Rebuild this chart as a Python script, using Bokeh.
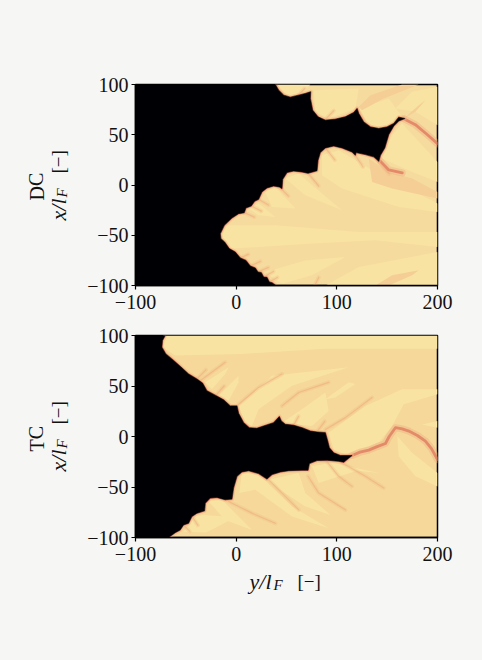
from bokeh.plotting import figure
from bokeh.layouts import column, row
from bokeh.models import FixedTicker
from bokeh.embed import file_html
from bokeh.resources import INLINE

y_ticks = [-100, 0, 100, 200]
x_ticks = [-100, -50, 0, 50, 100]
tick_names = {-100: "\u2212100", -50: "\u221250", 0: "0", 50: "50", 100: "100", 200: "200"}

# Flame front (y/lF, x/lF)
dc_front = [(39.5,-100),(35.6,-97.2),(32.9,-96.5),(30.6,-91.9),(27.3,-91.6),(25,-87.2),(21.6,-86.6),(19,-82.6),(14,-80.6),(9.7,-75),(4.1,-72.6),
 (-0.9,-66.7),(-6.9,-63.3),(-11.5,-56.7),(-15.2,-53.4),(-15.8,-48.4),(-11.8,-40.1),(-4.2,-32.8),(2.4,-28.5),(8,-27.5),(9.7,-22.8),(15,-20.8),
 (18.3,-16.2),(22.3,-14.2),(25.6,-6.9),(30.6,-2.9),(37.2,-0.9),(42.9,-1.9),(45.5,-3.6),(46.2,5.7),(50.5,12.4),(57.1,14),(65.4,13),(71.4,11.7),
 (80.3,14.3),(81.3,24.6),(83.6,32.3),(88.6,36.9),(96.9,38.9),(105.2,36.9),(115.1,32.9),(118.4,29.6),(119.1,32.3),(128.4,30.3),(136.7,28),
 (141.7,23.6),(143.3,29.6),(147.6,36.9),(151.6,50.2),(156.6,58.8),(161.5,63.8),(167.5,66.1),(161.5,67.5),(156.6,61.2),(149.9,57.8),(141.6,56.2),
 (133.4,57.8),(126.7,62.8),(121.8,71.1),(120.1,76.1),(116.8,72.1),(108.5,67.8),(98.5,65.5),(88.6,64.5),(81.3,67.8),(76,74.4),(73.7,86.1),(74,92.7),
 (68.7,91),(62.1,89.4),(53.8,87.4),(47.2,89.4),(42.2,94.4),(38.9,100)]
tc_front = [(-67.2,-100),(-60.6,-95.2),(-55.6,-92.5),(-52.3,-87.5),(-47.3,-85.9),(-44,-79.2),(-39,-75.9),(-31.4,-73.6),(-30.7,-66),(-25.8,-61),
 (-19.1,-60.3),(-10.9,-62.6),(-4.2,-62),(-2.6,-51),(0.8,-39.4),(5.7,-35.1),(12.4,-33.8),(22.3,-36.7),(30.6,-42.1),(35.6,-37.7),(43.9,-35.1),
 (52.1,-33.8),(65.4,-33.4),(71.4,-33.4),(72.7,-26.8),(80.3,-23.8),(90.3,-23.5),(101.9,-24.5),(106.8,-25.5),(115.1,-18.8),(103.5,-18.8),(96.9,-16.2),
 (92.6,-11.2),(90.9,-4.5),(88.6,3.8),(80.3,4.4),(73.7,5.4),(65.4,8.7),(57.1,11.1),(48.8,12.1),(44.8,15.4),(42.9,19.7),(37.2,13.7),(27.3,10.4),
 (20.6,8.1),(13,8.7),(7.4,13.7),(2.4,23),(0.8,30.3),(-5.9,30.3),(-12.5,36.3),(-20.8,40.9),(-29.1,45.3),(-33.4,52.9),(-39,56.9),(-47.3,61.9),
 (-55.6,69.5),(-63.9,76.8),(-69.9,81.8),(-73.8,88.4),(-73.2,95.1),(-70.5,100)]
far_side = [(-100,100),(-100,-100)]

# Regions of lighter temperature
dc_light = [
 [(-10.8,-40),(38.9,-40),(121.7,-46.7),(200,-46.7),(200,-61.7),(138.3,-55),(72,-58.4),(22.3,-61.7),(-7.5,-63.3),(-15.8,-53.4)],
 [(85.3,29.6),(101.9,34.6),(138.3,13),(171.5,-3.6),(200,-18.5),(200,-26.8),(161.5,-21.8),(105.2,-3.6),(85.3,9.7)],
 [(48.8,6.4),(62.1,11.4),(95.2,-16.9),(105.2,-25.2),(68.7,-10.2)],
 [(28.9,-6.9),(38.9,-1.9),(58.8,-23.5),(35.6,-21.8)],
 [(12.4,-23.5),(22.3,-18.5),(38.9,-31.8),(22.3,-30.1)],
 [(77,94.4),(121.8,96),(118.4,76.1),(91.9,66.1),(78.7,72.8)],
 [(121.8,76.1),(151.6,86.1),(164.8,67.8),(148.3,57.8),(131.7,59.5)],
 [(158.2,76.1),(174.8,92.7),(200,97.7),(200,59.5),(178.1,72.8)],
 [(154.9,49.5),(164.8,61.2),(184.7,39.6),(200,23),(200,3.1),(174.8,13),(144.9,26.3)],
 [(40.5,100),(73.7,100),(67,92),(52.1,87.7)],
 [(28.9,-86.6),(68.7,-75),(108.5,-71.6),(75.3,-89.9),(45.5,-98.2)],
 [(88.6,-100),(121.8,-81.6),(164.8,-73.3),(200,-66.7),(200,-100)],
]
dc_dark = [
 [(138.3,-100),(154.9,-89.9),(181.4,-84.9),(174.8,-89.9),(151.6,-100)],
 [(121.8,77.8),(133.4,89.4),(164.8,100),(181.4,100),(146.6,86),(125,74.4)],
 [(166.5,66.1),(181.4,79.4),(188,84.4),(178.1,72.8)],
 [(131.7,26.3),(135,3),(154.9,-3.6),(200,-13.5),(200,-6.9),(174.8,6.4),(151.6,13)],
]
dc_main = [
 [(166.5,66),(178,60),(190,50),(200,41)],
 [(143,24),(151.6,15),(165,12)],
]
dc_spikes = [
 [(33,-96.5),(41,-92)],[(27.3,-91.6),(37,-86)],[(21.6,-86.6),(32,-82)],[(14,-80.6),(24,-76)],[(4,-72.6),(12,-69)],
 [(8,-27.5),(18,-32)],[(15,-20.8),(25,-26)],[(22.3,-14.2),(32,-20)],[(42.9,-1.9),(52,-11)],[(71.4,11.7),(82,-1)],
 [(88.6,36.9),(98,25)],[(118.4,29.6),(126,18)],[(141.7,23.6),(152,11)],[(120.1,76.1),(127,64)],[(88,64.5),(97,74)],[(62,89.4),(68,96)],
 [(78,-100),(82,-92)],
]
tc_light = [
 [(-71,100),(200,100),(200,86.8),(88.6,86.8),(5.7,81.8),(-60.6,80.1),(-73.2,88.4)],
 [(-30.7,53.6),(-7.5,68.5),(-10.9,61.9),(-24.1,46.9)],
 [(-17.5,40.3),(2.4,60.2),(2.4,53.6),(-7.5,35.3)],
 [(2.4,30.3),(35.6,60.2),(111.8,68.5),(55.5,50.2),(22.3,27),(15.7,10.4),(9,13.7)],
 [(88.6,37),(111.8,53.6),(118.4,51.9),(98.6,38.6)],
 [(45.5,13.7),(65.4,27),(88.6,43.6),(91.9,25.3),(75.3,10.4)],
 [(91.9,3.8),(128.4,30.3),(164.8,46.9),(200,46.9),(200,41.9),(166.5,32),(154.9,10.4),(141.7,-6.2),(108.5,-17.8),(96.9,-12.8)],
 [(159.9,0.4),(174.8,-16.2),(200,-36.1),(200,-49.4),(178.1,-39.4),(161.5,-19.5)],
 [(184.7,12),(200,15.4),(200,8.7)],
 [(5.7,-36),(22.3,-37.7),(55.5,-69.3),(91.9,-90.9),(55.5,-79.2),(19,-52.7),(3.1,-56)],
 [(32.2,-42.7),(62.1,-36.1),(68.7,-56),(93.6,-77.6),(68.7,-69.3),(45.5,-54.3)],
 [(75.3,-29.4),(95.2,-26.1),(141.7,-36.1),(120,-34),(82,-46)],
 [(-27.4,-64.3),(-14.2,-62.6),(15.7,-92.5),(-10.9,-82.6)],
 [(-52.3,-94.2),(-40.7,-79.2),(-32.4,-77.6),(0,-80),(-30,-95)],
]
tc_dark = []
tc_main = [
 [(115.1,-18.8),(123,-15.5),(131.7,-13.5),(140,-10),(148.3,-6.9),(152,0),(158.2,8.7),(165,7.5),(171.5,5.4),(180,1),(188,-4.5),(194,-12),(200,-22.8)],
]
tc_spikes = [
 [(88.6,7),(108.5,18.7),(135,38.6)],
 [(2.4,32),(22.3,48.6),(45.5,61.9)],
 [(45.5,30.3),(62.1,43.6),(91.9,53.6)],
 [(71.4,-39.4),(82,-56),(108.5,-72.6)],
 [(105.2,-26.1),(128.4,-39.4),(146.6,-51)],
 [(-7.5,-64.3),(15.7,-75.9),(38.9,-85.9)],
 [(32.2,-42.7),(48.8,-59.3),(62.1,-72.6)],
 [(-35.7,55.2),(-10.9,73.5)],
 [(88.6,-22.8),(101.9,-39.4),(115.1,-49.4)],
 [(-44,-79),(-38,-88)],[(-52,-88),(-46,-94)],[(-20,41),(-12,50)],[(-39,57),(-30,66)],[(57,11),(62,20)],[(80,4.4),(88,15)],
]

PAGE = "#F6F6F4"
BLACK = "#000004"
SERIF = "Liberation Serif"
TOP1, FH1, BOT1 = 84, 201, 30
TOP2, FH2, BOT2 = 20, 202, 30
STRIP_W = 80
FOOT_H = 60


def split(pts):
    return [a for a, _ in pts], [b for _, b in pts]


def strip(w, h, y_top, y_bottom, top=0, bottom=0):
    s = figure(width=w, height=h, output_backend="svg", toolbar_location=None, x_range=(0, w), y_range=(y_bottom, y_top),
               min_border=0, min_border_top=top, min_border_bottom=bottom, background_fill_color=PAGE,
               border_fill_color=PAGE, outline_line_color=None)
    s.axis.visible = False
    s.grid.visible = False
    return s


def put(s, text, x, y, size, style="normal", angle=1.5708):
    s.text([x], [y], text=[text], angle=angle, text_font=SERIF, text_font_size=size, text_font_style=style,
           text_color="#111111", text_align="left", text_baseline="alphabetic")


def panel(front, light, dark, main, spikes, base, top, frame_h, bottom):
    p = figure(width=482 - STRIP_W, height=top + frame_h + bottom, output_backend="svg", toolbar_location=None,
               x_range=(-100, 200), y_range=(-100, 100), min_border_left=135 - STRIP_W, min_border_right=45,
               min_border_top=top, min_border_bottom=bottom, background_fill_color=base,
               border_fill_color=PAGE, outline_line_color="black", outline_line_width=1.5)
    p.grid.visible = False
    for ax, ticks in ((p.xaxis[0], y_ticks), (p.yaxis[0], x_ticks)):
        ax.ticker = FixedTicker(ticks=ticks)
        ax.major_label_overrides = tick_names
        ax.major_label_text_font = SERIF
        ax.major_label_text_font_size = "20px"
        ax.major_label_text_color = "#111111"
        ax.major_tick_in = 0
        ax.major_tick_out = 4
        ax.major_tick_line_color = "black"
        ax.major_tick_line_width = 1.2
        ax.minor_tick_line_color = None
        ax.axis_line_color = "black"
        ax.axis_line_width = 1.5
    p.xaxis[0].major_label_standoff = 5
    p.yaxis[0].major_label_standoff = 3
    for pts in light:
        a, b = split(pts)
        p.patch(a, b, fill_color="#F8E3A3", line_color=None)
    for pts in dark:
        a, b = split(pts)
        p.patch(a, b, fill_color="#F4CE95", line_color=None)
    for pts in spikes:
        a, b = split(pts)
        p.line(a, b, line_color="#F2BB86", line_width=4, line_alpha=0.3, line_join="round", line_cap="round")
        p.line(a, b, line_color="#EC9E75", line_width=1.2, line_alpha=0.4, line_join="round", line_cap="round")
    for pts in main:
        a, b = split(pts)
        p.line(a, b, line_color="#F0B483", line_width=7, line_alpha=0.5, line_join="round", line_cap="round")
        p.line(a, b, line_color="#E07F62", line_width=2.8, line_alpha=0.85, line_join="round", line_cap="round")
    a, b = split(front)
    p.line(a, b, line_color="#F2B27F", line_width=4, line_alpha=0.5, line_join="round")
    p.line(a, b, line_color="#DC6F5A", line_width=1.6, line_alpha=0.85, line_join="round")
    c, d = split(front + far_side)
    p.patch(c, d, fill_color=BLACK, line_color=BLACK, line_width=0.5)
    return p


def side(name, top, frame_h, bottom, page_top, dy):
    s = strip(STRIP_W, top + frame_h + bottom, page_top, page_top + frame_h, top, bottom)
    put(s, name, 36, 200 + dy, "20px")
    put(s, "x/l", 58, 220 + dy, "22px", "italic")
    put(s, "F", 61, 197 + dy, "15px", "italic")
    put(s, "[\u2212]", 58, 173 + dy, "19px")
    return s


top_panel = panel(dc_front, dc_light, dc_dark, dc_main, dc_spikes, "#F6DB9E", TOP1, FH1, BOT1)
bottom_panel = panel(tc_front, tc_light, tc_dark, tc_main, tc_spikes, "#F5D89A", TOP2, FH2, BOT2)
foot_top = TOP1 + FH1 + BOT1 + TOP2 + FH2 + BOT2
foot = strip(482, FOOT_H, foot_top, foot_top + FOOT_H)
put(foot, "y/l", 249, 581, "22px", "italic", 0)
put(foot, "F", 273, 584, "15px", "italic", 0)
put(foot, "[\u2212]", 297, 581, "19px", "normal", 0)
page = column(row(side("DC", TOP1, FH1, BOT1, 84, 0), top_panel, spacing=0),
              row(side("TC", TOP2, FH2, BOT2, 335, 251), bottom_panel, spacing=0), foot, spacing=0)
html = file_html(page, INLINE)
html = html.replace("<body>", '<body style="background:%s">' % PAGE)
open("out.html", "w").write(html)
